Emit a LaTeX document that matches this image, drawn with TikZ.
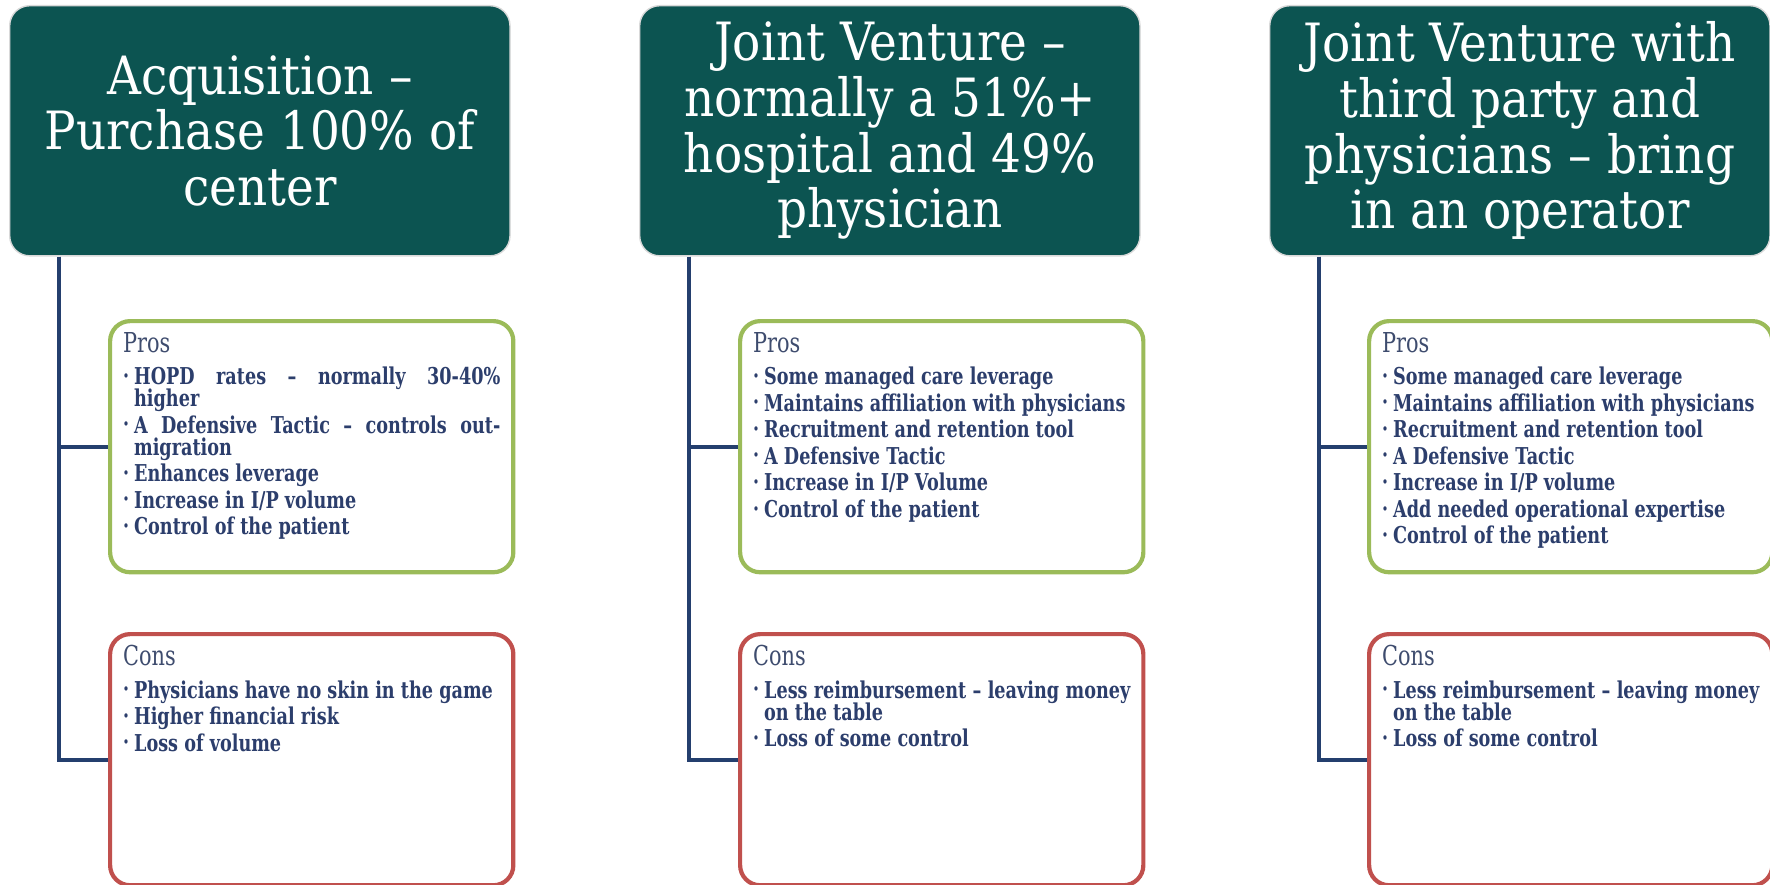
\documentclass[tikz,border=0pt]{standalone}
\usepackage{fontspec}
\setmainfont{DejaVu Serif}
\newfontfamily\headfont[FakeStretch=0.89]{DejaVu Serif}
\newfontfamily\bodyfont[FakeStretch=0.76]{DejaVu Serif}

\definecolor{headteal}{HTML}{0C5451}
\definecolor{linenavy}{HTML}{243F6E}
\definecolor{textnavy}{HTML}{2C3E6C}
\definecolor{labelnavy}{HTML}{3E4C6E}
\definecolor{prosgreen}{HTML}{9BBB59}
\definecolor{consred}{HTML}{C0504D}

\newcommand{\bitem}[1]{\par\hangindent=0.11cm\hangafter=1\noindent
  \makebox[0.11cm][l]{\raisebox{0.35ex}{\fontsize{3.5}{3.5}\selectfont\textbullet}}#1}
\newcommand{\boxtext}[2]{%
  \begin{minipage}[c][2.31cm][t]{3.77cm}
    \bodyfont\vspace*{0.01cm}%
    {\color{labelnavy}\fontsize{7.8}{9}\selectfont #1\par}
    \vspace{0.06cm}%
    \fontsize{6.6}{6.26}\selectfont\bfseries\color{textnavy}%
    \lineskiplimit=-10pt\lineskip=0pt
    \setlength{\parskip}{0.045cm}\hyphenpenalty=10000\relax
    #2\par
  \end{minipage}}

\begin{document}
\begin{tikzpicture}
	[x=0.01cm, y=-0.01cm,
	headbox/.style={rectangle,rounded corners=0.2cm,fill=headteal,draw=black!15,
		minimum width=5cm,minimum height=2.5cm,text=white,align=center,
		font=\headfont\fontsize{15}{15.8}\selectfont,anchor=north west},
	subbox/.style={rectangle,rounded corners=0.2cm,fill=white,line width=1.2pt,
		inner xsep=0.13cm,inner ysep=0.1cm,anchor=north west},
	prosbox/.style={subbox,draw=prosgreen},
	consbox/.style={subbox,draw=consred},
	trunk/.style={draw=linenavy,line width=1.1pt}]
	\useasboundingbox (0,0) rectangle (1770,885);
	% headers
	\node (acq) [headbox] at (9,5) {Acquisition –\\Purchase 100\% of\\center};
	\node (jv) [headbox] at (639,5) {Joint Venture –\\normally a 51\%+\\hospital and 49\%\\physician};
	\node (jvop) [headbox] at (1269,5) {Joint Venture with\\third party and\\physicians – bring\\in an operator};
	% pros
	\node (acqpros) [prosbox] at (108,319) {\boxtext{Pros}{%
		\bitem{HOPD rates – normally 30-40\%\linebreak higher}
		\bitem{A Defensive Tactic – controls out-\allowbreak{}migration}
		\bitem{Enhances leverage}
		\bitem{Increase in I/P volume}
		\bitem{Control of the patient}}};
	\node (jvpros) [prosbox] at (738,319) {\boxtext{Pros}{%
		\bitem{Some managed care leverage}
		\bitem{Maintains affiliation with physicians}
		\bitem{Recruitment and retention tool}
		\bitem{A Defensive Tactic}
		\bitem{Increase in I/P Volume}
		\bitem{Control of the patient}}};
	\node (jvoppros) [prosbox] at (1367,319) {\boxtext{Pros}{%
		\bitem{Some managed care leverage}
		\bitem{Maintains affiliation with physicians}
		\bitem{Recruitment and retention tool}
		\bitem{A Defensive Tactic}
		\bitem{Increase in I/P volume}
		\bitem{Add needed operational expertise}
		\bitem{Control of the patient}}};
	% cons
	\node (acqcons) [consbox] at (108,632) {\boxtext{Cons}{%
		\bitem{Physicians have no skin in the game}
		\bitem{Higher financial risk}
		\bitem{Loss of volume}}};
	\node (jvcons) [consbox] at (738,632) {\boxtext{Cons}{%
		\bitem{Less reimbursement – leaving money on the table}
		\bitem{Loss of some control}}};
	\node (jvopcons) [consbox] at (1367,632) {\boxtext{Cons}{%
		\bitem{Less reimbursement – leaving money on the table}
		\bitem{Loss of some control}}};
	% connectors
	\coordinate (acqroot) at ([xshift=0.5cm]acq.south west);
	\coordinate (jvroot) at ([xshift=0.5cm]jv.south west);
	\coordinate (jvoproot) at ([xshift=0.5cm]jvop.south west);
	\draw [trunk] (acqroot) |- (acqpros.west);
	\draw [trunk] (acqroot) |- (acqcons.west);
	\draw [trunk] (jvroot) |- (jvpros.west);
	\draw [trunk] (jvroot) |- (jvcons.west);
	\draw [trunk] (jvoproot) |- (jvoppros.west);
	\draw [trunk] (jvoproot) |- (jvopcons.west);
\end{tikzpicture}
\end{document}
